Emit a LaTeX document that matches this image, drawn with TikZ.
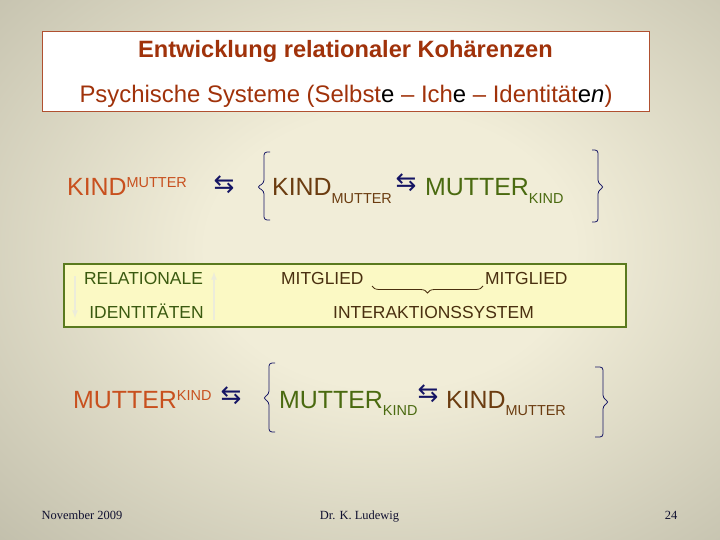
\documentclass[tikz,border=0pt]{standalone}
\usepackage{fontspec}
\setmainfont{Liberation Sans}
\newfontfamily\footfont{Liberation Serif}
\newfontfamily\arrowfont{DejaVu Sans}
\usetikzlibrary{calc,decorations.pathreplacing}

\definecolor{bgin}{RGB}{241,237,216}
\definecolor{bgout}{RGB}{148,146,128}
\definecolor{titlecol}{RGB}{160,50,10}
\definecolor{titleline}{RGB}{176,80,48}
\definecolor{orangecol}{RGB}{200,80,30}
\definecolor{browncol}{RGB}{107,60,16}
\definecolor{greencol}{RGB}{74,106,16}
\definecolor{navycol}{RGB}{20,20,100}
\definecolor{boxfill}{RGB}{251,249,196}
\definecolor{boxline}{RGB}{90,122,30}
\definecolor{relcol}{RGB}{58,90,16}
\definecolor{mitcol}{RGB}{74,48,16}
\definecolor{footcol}{RGB}{16,16,48}
\definecolor{faintcol}{RGB}{236,236,218}

\pgfdeclareradialshading{slidebg}{\pgfpoint{0bp}{0bp}}{color(0bp)=(bgin); color(10bp)=(bgin); color(50bp)=(bgout)}

\newcommand{\bigtxt}{\fontsize{25}{30}\selectfont}
\newcommand{\smalltxt}{\fontsize{14.5}{17}\selectfont}
\newcommand{\kmup}[2]{{\bigtxt #1}\raisebox{8bp}{\smalltxt #2}}
\newcommand{\kmdown}[2]{{\bigtxt #1}\raisebox{-7.5bp}{\smalltxt #2}}

\begin{document}
\begin{tikzpicture}[x=1bp,y=-1bp,
  bigtext/.style={anchor=base west,inner sep=0pt},
  swap/.style={inner sep=0pt,text=navycol,font=\arrowfont\fontsize{25}{26}\selectfont},
  boxtext/.style={anchor=base,inner sep=0pt,font=\fontsize{17.5}{20}\selectfont},
  curly/.style={draw=navycol,line width=0.8bp,rounded corners=3bp},
  faint/.style={draw=faintcol,line width=1.6bp,-latex},
  foot/.style={anchor=base,inner sep=0pt,text=footcol,font=\footfont\fontsize{12.5}{14}\selectfont}]
  \useasboundingbox (0,0) rectangle (720,540);
%%
  % Background
  \begin{scope}
    \clip (0,0) rectangle (720,540);
    \shade[shading=slidebg] (-70,-95) rectangle (850,595);
  \end{scope}
  % Node: title box
  \draw[titleline,fill=white,line width=0.9bp] (42,31) rectangle (649,111);
  \node[anchor=base,inner sep=0pt,text=titlecol,font=\bfseries\fontsize{23.7}{28}\selectfont]
    (title) at (345.5,58) {Entwicklung relationaler Kohärenzen};
  \node[anchor=base,inner sep=0pt,text=titlecol,font=\fontsize{24}{28}\selectfont]
    (subtitle) at (346,103) {Psychische Systeme (Selbst\textcolor{black}{e} – Ich\textcolor{black}{e} – Identität\textcolor{black}{e\textit{n}})};
  % Row: KIND over MUTTER
  \node[bigtext,text=orangecol] (kindm) at (67,196) {\kmup{KIND}{MUTTER}};
  \node[swap] (swapa) at (224,185) {⇆};
  \node[bigtext,text=browncol] (kindsub) at (272,196) {\kmdown{KIND}{MUTTER}};
  \node[swap] (swapb) at (406,183) {⇆};
  \node[bigtext,text=greencol] (muttersub) at (425,196) {\kmdown{MUTTER}{KIND}};
  % Edge: left brace, upper row
  \coordinate (bra) at (264,152);
  \coordinate (brb) at (264,220);
  \coordinate (brm) at (257,187);
  \draw[curly] ($(bra)+(6,0)$) -- (bra) -- ($(brm)+(7,-4)$) -- (brm) -- ($(brm)+(7,4)$) -- (brb) -- ($(brb)+(6,0)$);
  % Edge: right brace, upper row
  \coordinate (brc) at (598,150);
  \coordinate (brd) at (598,222);
  \coordinate (brn) at (604,187);
  \draw[curly] ($(brc)+(-6,0)$) -- (brc) -- ($(brn)+(-6,-4)$) -- (brn) -- ($(brn)+(-6,4)$) -- (brd) -- ($(brd)+(-6,0)$);
  % Node: relational box
  \draw[boxline,fill=boxfill,line width=1.1bp] (64,264) rectangle (626,327);
  \node[boxtext,text=relcol] (rel) at (143.5,285) {RELATIONALE};
  \node[boxtext,text=relcol] (ident) at (146.5,318) {IDENTITÄTEN};
  \node[boxtext,text=mitcol,anchor=base west] (mita) at (281,285) {MITGLIED};
  \node[boxtext,text=mitcol,anchor=base west] (mitb) at (485,285) {MITGLIED};
  \node[boxtext,text=mitcol] (inter) at (433.5,318) {INTERAKTIONSSYSTEM};
  \coordinate (downa) at (75,276);
  \coordinate (downb) at (75,318);
  \coordinate (upa) at (214,320);
  \coordinate (upb) at (214,272);
  \draw[faint] (downa) -- (downb);
  \draw[faint] (upa) -- (upb);
  \coordinate (ubra) at (483,286);
  \coordinate (ubrb) at (372,286);
  \draw[draw=mitcol,line width=0.8bp,decorate,decoration={brace,amplitude=7bp}] (ubra) -- (ubrb);
  % Row: MUTTER over KIND
  \node[bigtext,text=orangecol] (mutterk) at (73,408) {\kmup{MUTTER}{KIND}};
  \node[swap] (swapc) at (231,396) {⇆};
  \node[bigtext,text=greencol] (muttersubb) at (279,408) {\kmdown{MUTTER}{KIND}};
  \node[swap] (swapd) at (428,394) {⇆};
  \node[bigtext,text=browncol] (kindsubb) at (446,408) {\kmdown{KIND}{MUTTER}};
  % Edge: left brace, lower row
  \coordinate (bre) at (269,363);
  \coordinate (brf) at (269,432);
  \coordinate (bro) at (263,398);
  \draw[curly] ($(bre)+(6,0)$) -- (bre) -- ($(bro)+(6,-4)$) -- (bro) -- ($(bro)+(6,4)$) -- (brf) -- ($(brf)+(6,0)$);
  % Edge: right brace, lower row
  \coordinate (brg) at (603,367);
  \coordinate (brh) at (603,437);
  \coordinate (brp) at (609,402);
  \draw[curly] ($(brg)+(-8,0)$) -- (brg) -- ($(brp)+(-6,-4)$) -- (brp) -- ($(brp)+(-6,4)$) -- (brh) -- ($(brh)+(-8,0)$);
  % Footer
  \node[foot] (date) at (82,519) {November 2009};
  \node[foot] (author) at (359.5,519) {Dr. K. Ludewig};
  \node[foot] (page) at (671,519) {24};
%
\end{tikzpicture}
\end{document}
